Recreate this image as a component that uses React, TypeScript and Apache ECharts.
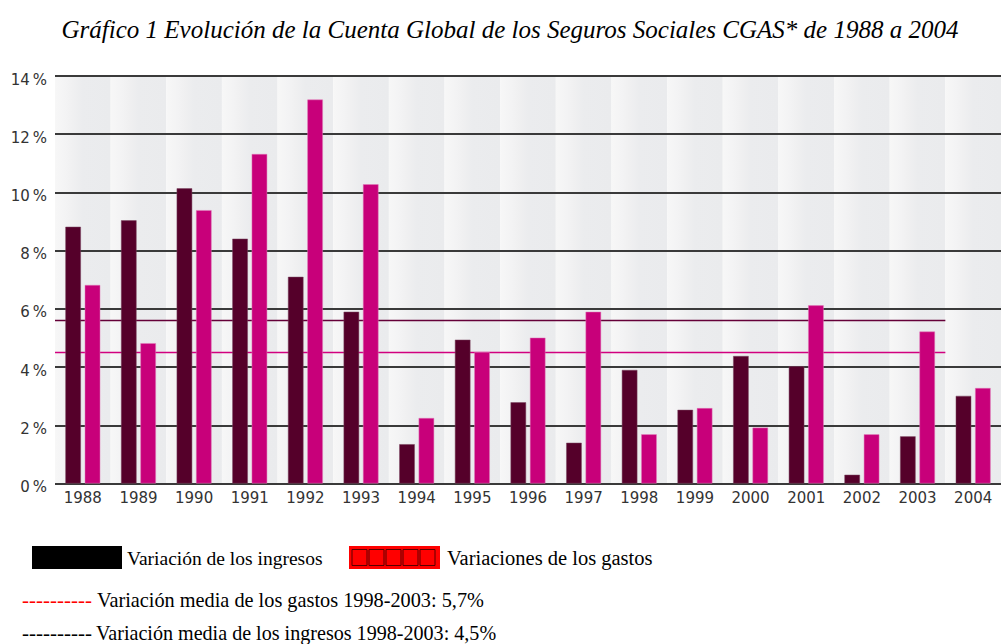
import React, { useEffect, useRef } from "react";
import * as echarts from "echarts";

const years = ["1988","1989","1990","1991","1992","1993","1994","1995","1996","1997","1998","1999","2000","2001","2002","2003","2004"];
const ingresos = [8.82, 9.04, 10.14, 8.41, 7.1, 5.9, 1.35, 4.94, 2.79, 1.4, 3.9, 2.53, 4.38, 4.03, 0.3, 1.62, 3.01];
const gastos = [6.82, 4.82, 9.39, 11.32, 13.19, 10.28, 2.25, 4.51, 5.01, 5.9, 1.69, 2.59, 1.92, 6.12, 1.69, 5.22, 3.28];
const mediaUpper = 5.6;
const mediaLower = 4.5;
const yTicks = [0, 2, 4, 6, 8, 10, 12, 14];

const title = "Gráfico 1 Evolución de la Cuenta Global de los Seguros Sociales CGAS* de 1988 a 2004";
const legend1 = "Variación de los ingresos";
const legend2 = "Variaciones de los gastos";
const legend3 = "Variación media de los gastos 1998-2003: 5,7%";
const legend4 = "Variación media de los ingresos 1998-2003: 4,5%";

export default function App() {
  const ref = useRef<HTMLDivElement>(null);
  useEffect(() => {
    if (!ref.current) return;
    const chart = echarts.init(ref.current, null, { renderer: "svg" });
    const stripe = new echarts.graphic.LinearGradient(0, 0, 1, 0, [
      { offset: 0, color: "#f7f7f7" },
      { offset: 0.2, color: "#f3f3f4" },
      { offset: 0.32, color: "#f0f0f1" },
      { offset: 0.5, color: "#ebecee" },
      { offset: 1, color: "#eaebed" },
    ]);
    const serif = "'Liberation Serif', 'Times New Roman', serif";
    const squares = [0, 1, 2, 3, 4].map((i) => ({
      type: "rect",
      shape: { x: 352 + i * 17, y: 549.5, width: 15, height: 16 },
      style: { fill: "none", stroke: "#5a0000", lineWidth: 1 },
    }));
    chart.setOption({
      animation: false,
      backgroundColor: "#ffffff",
      grid: { left: 55, right: -3, top: 76, bottom: 160.5, containLabel: false },
      xAxis: [
        {
          type: "category",
          data: years,
          boundaryGap: true,
          z: 0,
          axisLine: { show: false },
          axisTick: { show: false },
          axisLabel: {
            color: "#333",
            fontFamily: "'DejaVu Sans', sans-serif",
            fontSize: 15,
            margin: 7,
          },
          splitLine: { show: false },
          splitArea: { show: true, areaStyle: { color: [stripe] } },
        },
        { type: "value", min: 0, max: 17, show: false },
      ],
      yAxis: {
        type: "value",
        min: 0,
        max: 14,
        interval: 2,
        z: 1,
        axisLine: { show: false },
        axisTick: { show: false },
        axisLabel: {
          margin: 8,
          formatter: (v: number) => (yTicks.includes(v) ? "{a|" + v + "\u2009%}" : ""),
          rich: {
            a: {
              color: "#333",
              fontFamily: "'DejaVu Sans', sans-serif",
              fontSize: 15,
              padding: [7, 0, 0, 0],
            },
          },
        },
        splitLine: { show: true, lineStyle: { color: "#3a3a3a", width: 2 } },
      },
      series: [
        {
          type: "line",
          xAxisIndex: 1,
          data: [[0, mediaUpper], [16, mediaUpper]],
          symbol: "none",
          z: 2,
          lineStyle: { color: "#650038", width: 1.6 },
        },
        {
          type: "line",
          xAxisIndex: 1,
          data: [[0, mediaLower], [16, mediaLower]],
          symbol: "none",
          z: 2,
          lineStyle: { color: "#d1007f", width: 1.5 },
        },
        {
          type: "bar",
          data: ingresos,
          barWidth: 15.5,
          barGap: "25%",
          z: 3,
          itemStyle: { color: "#55002a", borderColor: "#7a4660", borderWidth: 0.5 },
        },
        {
          type: "bar",
          data: gastos,
          barWidth: 15.5,
          barGap: "25%",
          z: 3,
          itemStyle: { color: "#c8007a", borderColor: "#e07ab8", borderWidth: 0.5 },
        },
      ],
      graphic: [
        {
          type: "text",
          x: 510,
          y: 29,
          style: {
            text: title,
            fontFamily: serif,
            fontStyle: "italic",
            fontSize: 25,
            fill: "#000",
            align: "center",
            verticalAlign: "middle",
          },
        },
        { type: "rect", shape: { x: 32, y: 546, width: 90, height: 23 }, style: { fill: "#000" } },
        {
          type: "text",
          x: 127,
          y: 558,
          style: { text: legend1, fontFamily: serif, fontSize: 19.5, fill: "#000", verticalAlign: "middle" },
        },
        { type: "rect", shape: { x: 349, y: 546, width: 91, height: 23 }, style: { fill: "#ff0000" } },
        ...squares,
        {
          type: "text",
          x: 447,
          y: 558,
          style: { text: legend2, fontFamily: serif, fontSize: 20.5, fill: "#000", verticalAlign: "middle" },
        },
        {
          type: "text",
          x: 22,
          y: 600,
          style: { text: "----------", fontFamily: serif, fontSize: 21, fill: "#ff0000", verticalAlign: "middle" },
        },
        {
          type: "text",
          x: 97,
          y: 600,
          style: { text: legend3, fontFamily: serif, fontSize: 20.3, fill: "#000", verticalAlign: "middle" },
        },
        {
          type: "text",
          x: 22,
          y: 633,
          style: { text: "----------", fontFamily: serif, fontSize: 21, fill: "#000", verticalAlign: "middle" },
        },
        {
          type: "text",
          x: 96,
          y: 633,
          style: { text: legend4, fontFamily: serif, fontSize: 20.1, fill: "#000", verticalAlign: "middle" },
        },
      ],
    });
    return () => chart.dispose();
  }, []);
  return (
    <div
      ref={ref}
      style={{ position: "fixed", left: 0, top: 0, width: 1001, height: 644, background: "#fff" }}
    />
  );
}
